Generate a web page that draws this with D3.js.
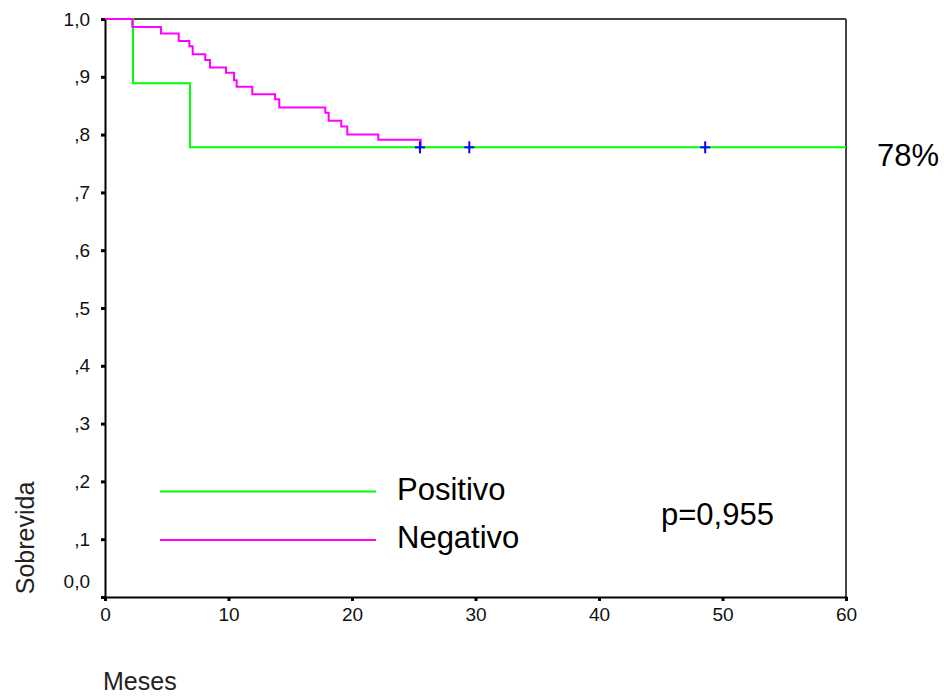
<!DOCTYPE html>
<html><head><meta charset="utf-8">
<script src="https://cdn.jsdelivr.net/npm/d3@7"></script>
<style>
html,body{margin:0;padding:0;background:#fff;}
svg{display:block;}
text{font-family:Arial,'Liberation Sans',sans-serif;}
</style></head>
<body>
<svg id="c" width="944" height="697"></svg>
<script>
// Data
const negTimes = [0, 2.21, 4.53, 5.97, 6.83, 7.10, 8.12, 8.50, 9.80, 10.45, 10.66, 11.93, 13.77, 14.11, 17.84, 18.11, 19.13, 19.62, 22.13, 25.56];
const negSurv  = [1.0, 0.986, 0.975, 0.962, 0.953, 0.939, 0.929, 0.916, 0.907, 0.894, 0.883, 0.870, 0.861, 0.847, 0.838, 0.824, 0.814, 0.800, 0.791, 0.779];
const negEnd = 25.56;
const posTimes = [0, 2.27, 6.88];
const posSurv  = [1.0, 0.889, 0.778];
const posEnd = 60;
const censorTimes = [25.5, 29.5, 48.6];
const censorSurv  = [0.778, 0.778, 0.778];
const xTicks = [0, 10, 20, 30, 40, 50, 60];
const yTicks = [0, 0.1, 0.2, 0.3, 0.4, 0.5, 0.6, 0.7, 0.8, 0.9, 1.0];
const yTickLabels = ["0,0", ",1", ",2", ",3", ",4", ",5", ",6", ",7", ",8", ",9", "1,0"];
const seriesNames = ["Positivo", "Negativo"];
const seriesColors = ["#00ff00", "#ff00ff"];

const svg = d3.select("#c");
const x = d3.scaleLinear().domain([0, 60]).range([105, 846]);
const y = d3.scaleLinear().domain([0, 1]).range([597, 19]);

// frame (top/right)
svg.append("line").attr("x1", x(0)).attr("x2", x(60)).attr("y1", y(1)).attr("y2", y(1))
  .attr("stroke", "#444").attr("stroke-width", 2);
svg.append("line").attr("x1", x(60)).attr("x2", x(60)).attr("y1", y(1)).attr("y2", y(0))
  .attr("stroke", "#444").attr("stroke-width", 2);

// axes
const xAxis = d3.axisBottom(x).tickValues(xTicks).tickSize(4).tickPadding(7).tickFormat(d3.format("d"));
const gx = svg.append("g").attr("transform", `translate(0,${y(0)})`).call(xAxis);
gx.select(".domain").attr("stroke", "#000").attr("stroke-width", 2);
gx.selectAll(".tick line").attr("stroke", "#000").attr("stroke-width", 3);
gx.selectAll(".tick text").attr("font-size", 19).attr("fill", "#111")
  .attr("font-family", "Arial, 'Liberation Sans', sans-serif");

const yAxis = d3.axisLeft(y).tickValues(yTicks).tickSize(4).tickPadding(11)
  .tickFormat((d, i) => yTickLabels[i]);
const gy = svg.append("g").attr("transform", `translate(${x(0)},0)`).call(yAxis);
gy.select(".domain").attr("stroke", "#000").attr("stroke-width", 2);
gy.selectAll(".tick line").attr("stroke", "#000").attr("stroke-width", 3);
gy.selectAll(".tick text").attr("font-size", 19).attr("fill", "#111")
  .attr("font-family", "Arial, 'Liberation Sans', sans-serif")
  .attr("dy", (d) => d === 0 ? "-0.5em" : "0.32em");

// curves
const line = d3.line().x(d => x(d[0])).y(d => y(d[1])).curve(d3.curveStepAfter);
const posData = posTimes.map((t, i) => [t, posSurv[i]]).concat([[posEnd, posSurv[posSurv.length - 1]]]);
const negData = negTimes.map((t, i) => [t, negSurv[i]]).concat([[negEnd, negSurv[negSurv.length - 1]]]);
svg.append("path").attr("d", line(posData)).attr("fill", "none").attr("stroke", seriesColors[0]).attr("stroke-width", 2);
svg.append("path").attr("d", line(negData)).attr("fill", "none").attr("stroke", seriesColors[1]).attr("stroke-width", 2);

// censor marks
censorTimes.forEach((t, i) => {
  const cx = x(t), cy = y(censorSurv[i]);
  svg.append("line").attr("x1", cx - 5).attr("x2", cx + 5).attr("y1", cy).attr("y2", cy).attr("stroke", "#0000ff").attr("stroke-width", 2);
  svg.append("line").attr("x1", cx).attr("x2", cx).attr("y1", cy - 6).attr("y2", cy + 6).attr("stroke", "#0000ff").attr("stroke-width", 2);
});

// legend
const legY = [491.5, 540];
seriesNames.forEach((n, i) => {
  svg.append("line").attr("x1", 160).attr("x2", 376).attr("y1", legY[i]).attr("y2", legY[i])
    .attr("stroke", seriesColors[i]).attr("stroke-width", 2);
  svg.append("text").attr("x", 397).attr("y", legY[i] + 8).text(n)
    .attr("font-size", 31).attr("fill", "#000");
});

svg.append("text").attr("x", 661).attr("y", 525).text("p=0,955")
  .attr("font-size", 31).attr("fill", "#000");
svg.append("text").attr("x", 877).attr("y", 166).text("78%")
  .attr("font-size", 31).attr("fill", "#000");

// axis titles
svg.append("text").attr("x", 103).attr("y", 690).text("Meses")
  .attr("font-size", 25).attr("fill", "#222");
svg.append("text").attr("transform", "translate(34,538) rotate(-90)").attr("text-anchor", "middle").text("Sobrevida")
  .attr("font-size", 25).attr("fill", "#222");
</script>
</body></html>
